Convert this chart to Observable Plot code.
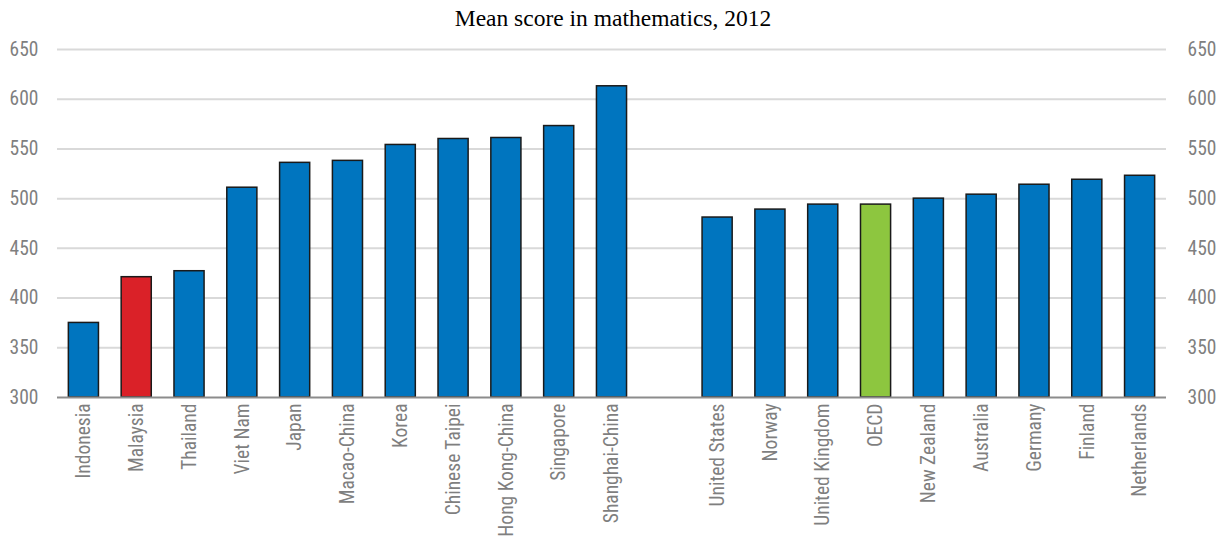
<!DOCTYPE html>
<html>
<head>
<meta charset="utf-8">
<script src="https://cdn.jsdelivr.net/npm/d3@7"></script>
<script src="https://cdn.jsdelivr.net/npm/@observablehq/plot@0.6"></script>
<style>
  html, body { margin: 0; padding: 0; background: #fff; }
  #title {
    width: 1226px; height: 36px; line-height: 36px; text-align: center;
    font-family: "Liberation Serif", "Times New Roman", serif; font-size: 23.5px; color: #000;
  }
  #chart svg { display: block; }
</style>
</head>
<body>
<div id="title">Mean score in mathematics, 2012</div>
<div id="chart"></div>
<script>
// PISA 2012 mean mathematics scores: Asian economies, then OECD comparators
const asia = ["Indonesia", "Malaysia", "Thailand", "Viet Nam", "Japan", "Macao-China", "Korea",
  "Chinese Taipei", "Hong Kong-China", "Singapore", "Shanghai-China"];
const asiaScores = [375, 421, 427, 511, 536, 538, 554, 560, 561, 573, 613];
const oecd = ["United States", "Norway", "United Kingdom", "OECD", "New Zealand", "Australia",
  "Germany", "Finland", "Netherlands"];
const oecdScores = [481, 489, 494, 494, 500, 504, 514, 519, 523];
const yTicks = [300, 350, 400, 450, 500, 550, 600, 650];
const baseline = 300;
const highlight = {"Malaysia": "red", "OECD": "green"};

const GAP = "\u2002"; // empty slot separating the two groups
const domain = [...asia, GAP, ...oecd];
const data = [
  ...asia.map((c, i) => ({country: c, score: asiaScores[i]})),
  ...oecd.map((c, i) => ({country: c, score: oecdScores[i]}))
];
const fills = {blue: "#0075BF", red: "#DA2128", green: "#8DC63F"};
const fillOf = d => fills[highlight[d.country] || "blue"];

const font = '"Liberation Sans Narrow", "Arial Narrow", "Roboto Condensed", "Liberation Sans", sans-serif';

const chart = Plot.plot({
  width: 1226,
  height: 504,
  marginTop: 13,
  marginBottom: 143,
  marginLeft: 57,
  marginRight: 60,
  style: {fontFamily: font, fontSize: "19.5px", color: "#7f7f7f", background: "#fff"},
  x: {domain, paddingInner: 0.43, paddingOuter: 0.215, round: false, label: null},
  y: {domain: [yTicks[0], yTicks[yTicks.length - 1]], label: null},
  marks: [
    Plot.gridY(yTicks.slice(1), {stroke: "#d9d9d9", strokeWidth: 2, strokeOpacity: 1}),
    Plot.barY(data, {x: "country", y1: baseline, y2: "score", fill: fillOf, stroke: "#1a1a1a", strokeWidth: 1.5}),
    Plot.ruleY([baseline], {stroke: "#8c8c8c", strokeWidth: 2}),
    Plot.axisY(yTicks, {anchor: "left", tickSize: 0, tickPadding: 19, label: null, fill: "#7f7f7f"}),
    Plot.axisY(yTicks, {anchor: "right", tickSize: 0, tickPadding: 21, label: null, fill: "#7f7f7f"}),
    Plot.axisX(domain.filter(d => d !== GAP), {tickSize: 0, tickPadding: 6, tickRotate: -90, label: null, fill: "#7f7f7f"})
  ]
});
document.getElementById("chart").appendChild(chart);
</script>
</body>
</html>
